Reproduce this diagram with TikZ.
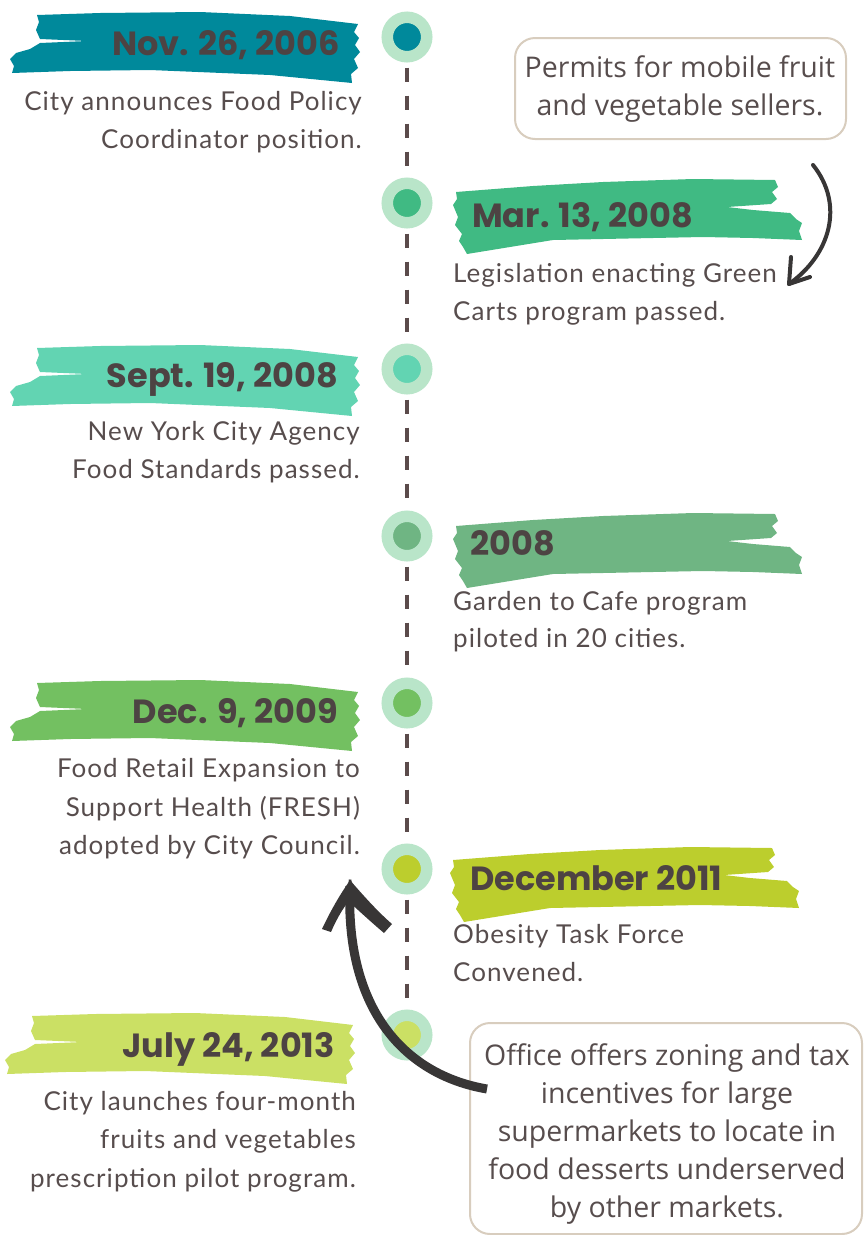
\documentclass[tikz,border=0pt]{standalone}
\usepackage{fontspec}
\setmainfont{Lato}[LetterSpace=4]
\newfontfamily\datefont{Poppins}
\newfontfamily\boxfont{Open Sans}
\definecolor{cTeal}{HTML}{00899B}
\definecolor{cGreenA}{HTML}{40BA83}
\definecolor{cAqua}{HTML}{62D4B2}
\definecolor{cSage}{HTML}{6FB583}
\definecolor{cGreenB}{HTML}{73C061}
\definecolor{cLime}{HTML}{BCCE2D}
\definecolor{cLimeL}{HTML}{CBE064}
\definecolor{cRing}{HTML}{B9E5C9}
\definecolor{cBody}{HTML}{574D4D}
\definecolor{cDate}{HTML}{4D4343}
\definecolor{cDash}{HTML}{5B4B4B}
\definecolor{cBox}{HTML}{D8CDBE}
\definecolor{cArrow}{HTML}{383636}
\newcommand\brushleft[3]{\fill[#3,shift={(#1,#2)}] (27,3) -- (90,1) -- (190,0) -- (280,4) -- (348,12) -- (344,20) -- (349,26) -- (345,33) -- (350,40) -- (344,47) -- (348,56) -- (341,62) -- (342,71) -- (260,63) -- (140,58) -- (60,59) -- (2,61) -- (4,54) -- (0,47) -- (6,41) -- (20,37) -- (30,31) -- (77,29) -- (30,27) -- (26,18) -- (29,10) -- cycle;}
\newcommand\brushright[3]{\fill[#3,shift={(#1,#2)}] (3,15) -- (80,9) -- (150,5) -- (240,2) -- (322,3) -- (325,10) -- (319,15) -- (324,22) -- (318,27) -- (274,30) -- (300,33) -- (337,36) -- (343,42) -- (349,46) -- (346,54) -- (349,63) -- (300,61) -- (250,60) -- (100,63) -- (14,77) -- (10,70) -- (6,64) -- (9,57) -- (2,48) -- (5,40) -- (0,28) -- (4,22) -- cycle;}
\tikzset{
  dot/.style={circle, draw=cRing, line width=11.5pt, minimum size=39.5pt, inner sep=0pt},
  tl/.style={draw=cDash, line width=4pt, dash pattern=on 14pt off 14pt},
  dateL/.style={anchor=base east, inner sep=0pt, text=cDate, font=\datefont\bfseries\fontsize{33.5}{38}\selectfont},
  dateR/.style={anchor=base west, inner sep=0pt, text=cDate, font=\datefont\bfseries\fontsize{33.5}{38}\selectfont},
  bodyL/.style={anchor=base east, inner sep=0pt, text=cBody, font=\fontsize{26}{30}\selectfont},
  bodyR/.style={anchor=base west, inner sep=0pt, text=cBody, font=\fontsize{26}{30}\selectfont},
  callout/.style={draw=cBox, line width=2pt, rounded corners=20pt, fill=white, inner sep=0pt},
  boxtxt/.style={anchor=base, inner sep=0pt, text=cBody, font=\boxfont\fontsize{28.5}{32}\selectfont},
  arrowline/.style={draw=cArrow, line cap=round, line join=round}
}
\begin{document}
\begin{tikzpicture}[x=1pt,y=-1pt]
\useasboundingbox (0,0) rectangle (864,1235);
% brushes
\brushleft{10}{12}{cTeal}
\brushright{453}{177}{cGreenA}
\brushleft{10}{345}{cAqua}
\brushright{453}{511}{cSage}
\brushleft{10}{680}{cGreenB}
\brushright{450}{845}{cLime}
\brushleft{5}{1013}{cLimeL}
% timeline dots
\node[dot, fill=cTeal] (c1) at (407,37) {};
\node[dot, fill=cGreenA] (c2) at (407,203) {};
\node[dot, fill=cAqua] (c3) at (407,369) {};
\node[dot, fill=cSage] (c4) at (407,536) {};
\node[dot, fill=cGreenB] (c5) at (407,703) {};
\node[dot, fill=cLime] (c6) at (407,869) {};
\node[dot, fill=cLimeL] (c7) at (407,1035) {};
\foreach \a/\b in {c1/c2,c2/c3,c3/c4,c4/c5,c5/c6,c6/c7}
  \draw[tl] ([yshift=-5pt]\a.south) -- ([yshift=5pt]\b.north);
% dates
\node[dateL] (d1) at (340,55) {Nov. 26, 2006};
\node[dateR] (d2) at (472,227) {Mar. 13, 2008};
\node[dateL] (d3) at (338,387) {Sept. 19, 2008};
\node[dateR] (d4) at (470,555) {2008};
\node[dateL] (d5) at (338,723) {Dec. 9, 2009};
\node[dateR] (d6) at (470,890) {December 2011};
\node[dateL] (d7) at (335,1057) {July 24, 2013};
% bodies
\node[bodyL] (t1a) at (362,110) {City announces Food Policy};
\node[bodyL] (t1b) at (362,148) {Coordinator position.};
\node[bodyR] (t2a) at (453,282) {Legislation enacting Green};
\node[bodyR] (t2b) at (453,320) {Carts program passed.};
\node[bodyL] (t3a) at (360,440) {New York City Agency};
\node[bodyL] (t3b) at (360,478) {Food Standards passed.};
\node[bodyR] (t4a) at (453,610) {Garden to Cafe program};
\node[bodyR] (t4b) at (453,647) {piloted in 20 cities.};
\node[bodyL] (t5a) at (360,777) {Food Retail Expansion to};
\node[bodyL] (t5b) at (360,816) {Support Health (FRESH)};
\node[bodyL] (t5c) at (360,854) {adopted by City Council.};
\node[bodyR] (t6a) at (453,943) {Obesity Task Force};
\node[bodyR] (t6b) at (453,981) {Convened.};
\node[bodyL] (t7a) at (356,1110) {City launches four-month};
\node[bodyL] (t7b) at (356,1148) {fruits and vegetables};
\node[bodyL] (t7c) at (356,1187) {prescription pilot program.};
% callout boxes
\node[callout, minimum width=331pt, minimum height=101pt] (p1) at (680.5,88.5) {};
\node[boxtxt] (p1a) at (680,77) {Permits for mobile fruit};
\node[boxtxt] (p1b) at (680,115) {and vegetable sellers.};
\node[callout, minimum width=392pt, minimum height=211pt] (p2) at (666,1128.5) {};
\node[boxtxt] (p2a) at (667,1065) {Office offers zoning and tax};
\node[boxtxt] (p2b) at (667,1103) {incentives for large};
\node[boxtxt] (p2c) at (667,1141) {supermarkets to locate in};
\node[boxtxt] (p2d) at (667,1179) {food desserts underserved};
\node[boxtxt] (p2e) at (667,1217) {by other markets.};
% big arrow, drawn over box and dot
\coordinate (tailB) at (487,1089);
\coordinate (tipB) at (350,886);
\draw[draw=cArrow, line width=9pt] (tailB) .. controls (405,1075) and (345,1010) .. (tipB);
\fill[cArrow] (351,879) .. controls (340,894) and (330,912) .. (322,929) -- (331,932) .. controls (337,918) and (345,904) .. (355,894) -- cycle;
\fill[cArrow] (349,879) .. controls (362,894) and (377,911) .. (392,924) -- (384,933) .. controls (371,922) and (358,910) .. (346,899) -- cycle;
% small arrow
\coordinate (tailA) at (813,165);
\coordinate (tipA) at (789,284);
\draw[arrowline, line width=4pt] (tailA) .. controls (845,205) and (830,255) .. (tipA);
\draw[arrowline, line width=4pt] (791,257) -- (tipA) -- (810,277);
% page number fragment
\node[text=gray!60, font=\fontsize{20}{24}\selectfont, anchor=base] (pg) at (72,1250) {8};
\end{tikzpicture}
\end{document}
